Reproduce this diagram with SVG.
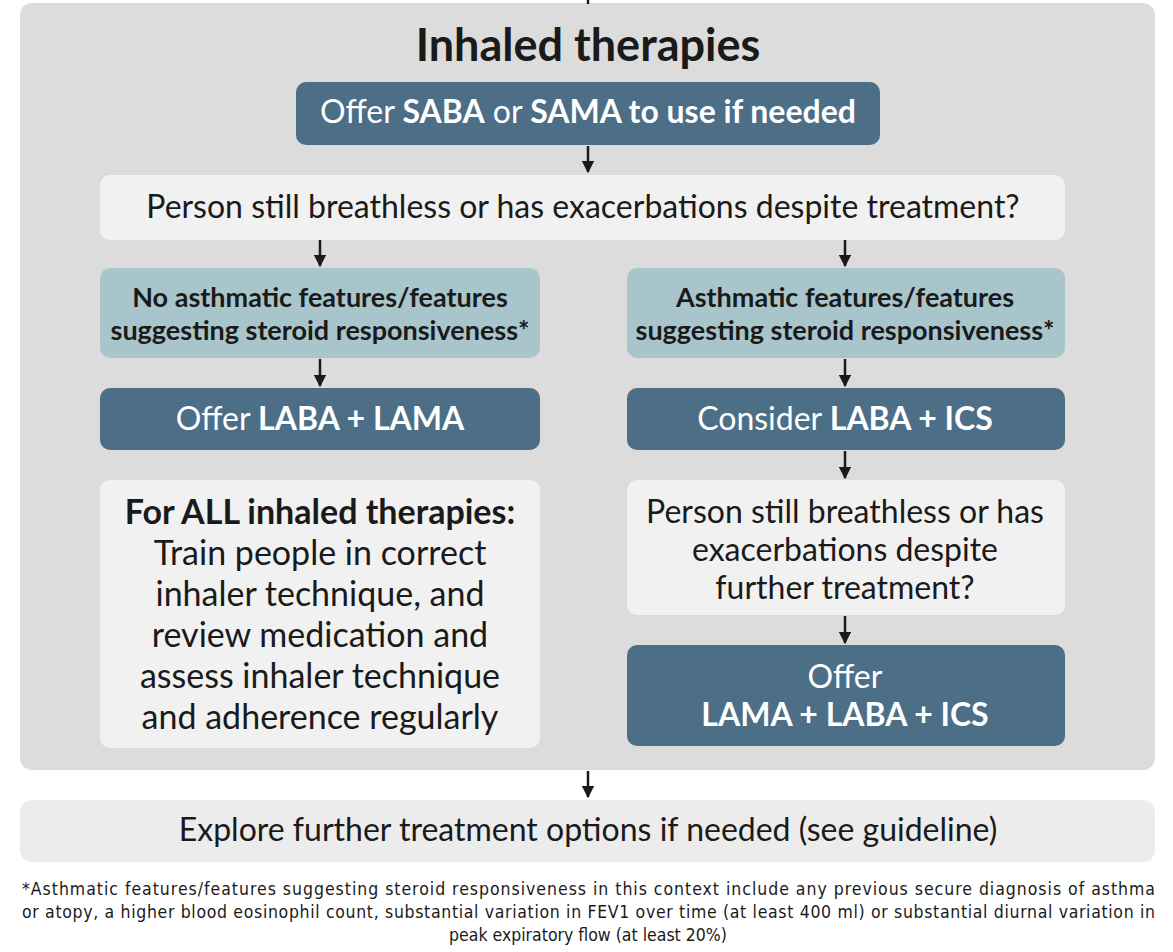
<svg xmlns="http://www.w3.org/2000/svg" width="1173" height="952" viewBox="0 0 1173 952">
<style>
.t{font-family:Lato,"Open Sans",sans-serif;text-anchor:middle}
.dark{fill:#4c6e86}
.teal{fill:#a9c5cc}
.light{fill:#f1f1f1}
.w{fill:#ffffff}
.k{fill:#1a1a1a}
.b{font-weight:bold}
.conn line{stroke:#1a1a1a;stroke-width:2.5}
.fn{font-family:"DejaVu Sans Condensed","DejaVu Sans",sans-serif;font-size:17.5px;fill:#1a1a1a;font-stretch:condensed}
</style>
<defs>
<marker id="ah" viewBox="0 0 10 10" refX="9" refY="5" markerWidth="5" markerHeight="5" orient="auto" markerUnits="strokeWidth">
<path d="M0,0 L10,5 L0,10 Z" fill="#1a1a1a"/>
</marker>
</defs>
<rect width="1173" height="952" fill="#ffffff"/>
<g id="panel">
<rect x="20" y="3" width="1135" height="767" rx="12" fill="#dcdcdc"/>
<text class="t b k" x="588" y="61" font-size="45">Inhaled therapies</text>
</g>
<g class="conn">
<line x1="588" y1="0" x2="588" y2="4"/>
<line x1="588" y1="146" x2="588" y2="172" marker-end="url(#ah)"/>
<line x1="320" y1="240" x2="320" y2="266" marker-end="url(#ah)"/>
<line x1="845" y1="240" x2="845" y2="266" marker-end="url(#ah)"/>
<line x1="320" y1="359" x2="320" y2="386" marker-end="url(#ah)"/>
<line x1="845" y1="359" x2="845" y2="386" marker-end="url(#ah)"/>
<line x1="845" y1="451" x2="845" y2="478" marker-end="url(#ah)"/>
<line x1="845" y1="616" x2="845" y2="643" marker-end="url(#ah)"/>
<line x1="588" y1="771" x2="588" y2="797" marker-end="url(#ah)"/>
</g>
<g id="n1">
<rect class="dark" x="296" y="82" width="584" height="63" rx="10"/>
<text class="t w" x="588" y="123" font-size="32">Offer <tspan class="b">SABA</tspan> or <tspan class="b">SAMA to use if needed</tspan></text>
</g>
<g id="n2">
<rect class="light" x="100" y="175" width="965" height="65" rx="10"/>
<text class="t k" x="583" y="218" font-size="32">Person still breathless or has exacerbations despite treatment?</text>
</g>
<g id="n3a">
<rect class="teal" x="100" y="268" width="440" height="90" rx="10"/>
<text class="t b k" x="320" y="307" font-size="27">No asthmatic features/features</text>
<text class="t b k" x="320" y="340" font-size="27">suggesting steroid responsiveness*</text>
</g>
<g id="n3b">
<rect class="teal" x="627" y="268" width="438" height="90" rx="10"/>
<text class="t b k" x="845" y="307" font-size="27">Asthmatic features/features</text>
<text class="t b k" x="845" y="340" font-size="27">suggesting steroid responsiveness*</text>
</g>
<g id="n4a">
<rect class="dark" x="100" y="388" width="440" height="62" rx="10"/>
<text class="t w" x="320" y="430" font-size="32">Offer <tspan class="b">LABA + LAMA</tspan></text>
</g>
<g id="n4b">
<rect class="dark" x="627" y="388" width="438" height="62" rx="10"/>
<text class="t w" x="845" y="430" font-size="32">Consider <tspan class="b">LABA + ICS</tspan></text>
</g>
<g id="n5a">
<rect class="light" x="100" y="480" width="440" height="268" rx="10"/>
<text class="t b k" x="320" y="524" font-size="34">For ALL inhaled therapies:</text>
<text class="t k" x="320" y="565" font-size="34">Train people in correct</text>
<text class="t k" x="320" y="606" font-size="34">inhaler technique, and</text>
<text class="t k" x="320" y="647" font-size="34">review medication and</text>
<text class="t k" x="320" y="688" font-size="34">assess inhaler technique</text>
<text class="t k" x="320" y="729" font-size="34">and adherence regularly</text>
</g>
<g id="n5b">
<rect class="light" x="627" y="480" width="438" height="135" rx="10"/>
<text class="t k" x="845" y="523" font-size="32">Person still breathless or has</text>
<text class="t k" x="845" y="561" font-size="32">exacerbations despite</text>
<text class="t k" x="845" y="599" font-size="32">further treatment?</text>
</g>
<g id="n6b">
<rect class="dark" x="627" y="645" width="438" height="101" rx="10"/>
<text class="t w" x="845" y="688" font-size="32">Offer</text>
<text class="t w b" x="845" y="726" font-size="32">LAMA + LABA + ICS</text>
</g>
<g id="n7">
<rect fill="#ececec" x="20" y="800" width="1135" height="62" rx="12"/>
<text class="t k" x="588" y="841" font-size="32">Explore further treatment options if needed (see guideline)</text>
</g>
<g id="footnote">
<text class="fn" x="22" y="895" textLength="1133" lengthAdjust="spacing">*Asthmatic features/features  suggesting steroid responsiveness in this context include any previous secure diagnosis of asthma</text>
<text class="fn" x="22" y="918" textLength="1133" lengthAdjust="spacing">or atopy, a higher blood eosinophil count, substantial variation in FEV1 over time (at least 400 ml) or substantial diurnal variation in</text>
<text class="fn" x="588" y="941" text-anchor="middle">peak expiratory flow (at least 20%)</text>
</g>
</svg>
